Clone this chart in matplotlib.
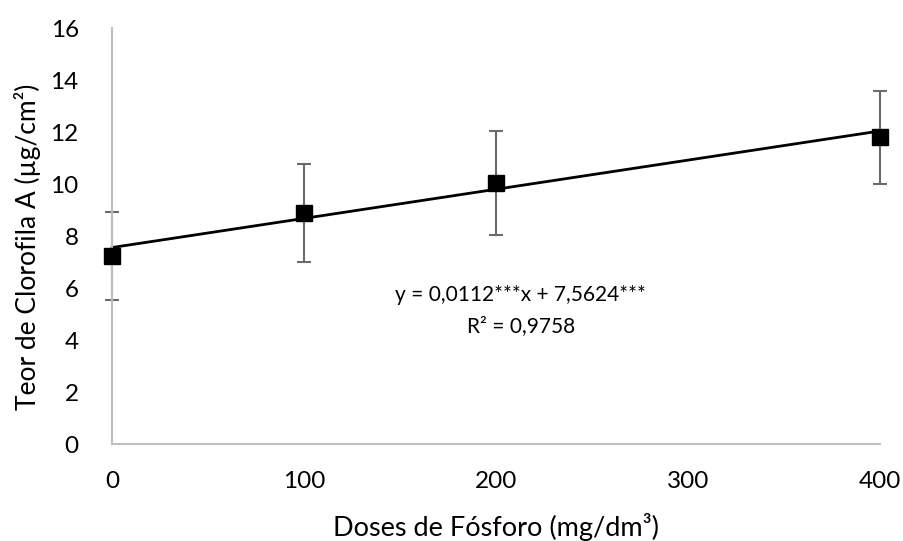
import numpy as np
import matplotlib.pyplot as plt

plt.rcParams['font.family'] = ['Lato', 'DejaVu Sans']

# dados
doses = [0, 100, 200, 400]
clorofila = [7.23, 8.88, 10.05, 11.8]
erro = [1.68, 1.88, 2.0, 1.8]
coef_a = 0.0112
coef_b = 7.5624

fig = plt.figure(figsize=(9.04, 5.41), dpi=100)
ax = fig.add_axes([0.124, 0.179, 0.849, 0.769])

# linha de tendência
xs = np.array([min(doses), max(doses)])
ax.plot(xs, coef_a * xs + coef_b, color='black', lw=2, zorder=2, clip_on=False)

ax.errorbar(doses, clorofila, yerr=erro, fmt='none', ecolor='#6b6b6b',
            elinewidth=1.5, capsize=5, capthick=1.5, zorder=1, clip_on=False)
ax.plot(doses, clorofila, 's', color='black', ms=11, zorder=3, clip_on=False)

ax.text(213, 5.75, 'y = 0,0112***x + 7,5624***', ha='center', va='center', fontsize=15)
ax.text(213, 4.55, 'R² = 0,9758', ha='center', va='center', fontsize=15)

ax.set_xlim(0, 400)
ax.set_ylim(0, 16)
ax.set_xticks([0, 100, 200, 300, 400])
ax.set_yticks(range(0, 17, 2))
ax.tick_params(length=0, labelsize=17.5)
ax.tick_params(axis='x', pad=19)
ax.tick_params(axis='y', pad=24)

for s in ['top', 'right']:
    ax.spines[s].set_visible(False)
for s in ['left', 'bottom']:
    ax.spines[s].set_color('#bfbfbf')
    ax.spines[s].set_linewidth(1.5)

ax.set_xlabel('Doses de Fósforo (mg/dm³)', fontsize=19.5)
ax.set_ylabel('Teor de Clorofila A (µg/cm²)', fontsize=19)
ax.xaxis.set_label_coords(0.5, -0.165)
ax.yaxis.set_label_coords(-0.092, 0.474)

fig.savefig('out.png', dpi=100)
